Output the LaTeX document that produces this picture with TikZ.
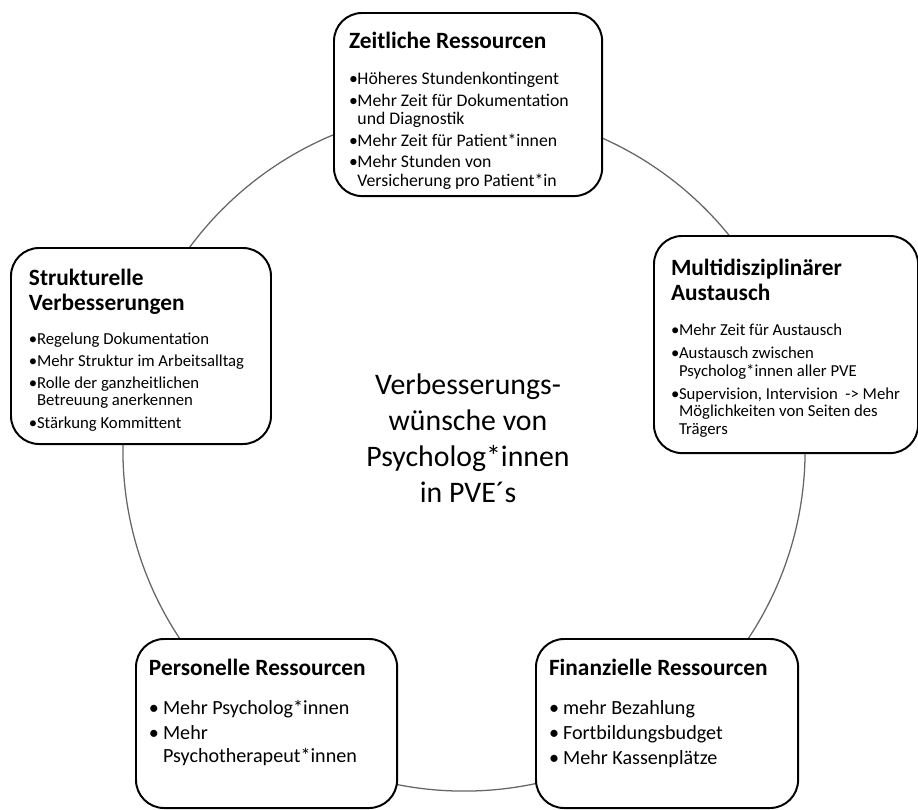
\documentclass[tikz,border=0pt]{standalone}
\usepackage{fontspec}
\setmainfont{Carlito}

\newcommand{\kopf}[2]{{\fontsize{16.6}{17.8}\selectfont\bfseries #1\par}\vspace{#2}}
\newcommand{\pkt}[2][6pt]{\par\noindent\hangindent=#1\hangafter=1\makebox[#1][l]{\textbullet}#2\par}

\tikzset{
    kasten/.style={draw, line width=1.4pt, rounded corners=20pt, fill=white,
        anchor=north west, inner xsep=#1, inner ysep=0pt},
    kasten/.default=11pt,
    ring/.style={draw=black!60, line width=0.9pt},
    mitte/.style={align=center, font=\fontsize{21.2}{25.6}\selectfont}
}

\begin{document}
\begin{tikzpicture}[x=0.025cm, y=-0.025cm]
    \useasboundingbox (0,0) rectangle (918,809);
    \coordinate (m) at (464,450);
    \draw[ring] (m) circle[radius=8.525cm];
    \path node[mitte] (titel) at (468,438) {Verbesserungs-\\wünsche von\\Psycholog*innen\\in PVE´s}
        node[kasten=10.7pt] (zeit) at (333,12) {\parbox[c][130.2pt][t]{169.3pt}{\raggedright
            \fontsize{12.6}{13}\selectfont\setlength{\parskip}{2.4pt}\vspace*{11pt}
            \kopf{Zeitliche Ressourcen}{10.5pt}
            \pkt{Höheres Stundenkontingent}
            \pkt{Mehr Zeit für Dokumentation\newline und Diagnostik}
            \pkt{Mehr Zeit für Patient*innen}
            \pkt{Mehr Stunden von\newline Versicherung pro Patient*in}}}
        node[kasten=12.8pt] (struktur) at (10,247) {\parbox[c][139.4pt][t]{159.3pt}{\raggedright
            \fontsize{11.9}{12.1}\selectfont\setlength{\parskip}{3.6pt}\vspace*{11.5pt}
            \kopf{Strukturelle\\Verbesserungen}{8.6pt}
            \pkt[5.7pt]{Regelung Dokumentation}
            \pkt[5.7pt]{Mehr Struktur im Arbeitsalltag}
            \pkt[5.7pt]{Rolle der ganzheitlichen\newline Betreuung anerkennen}
            \pkt[5.7pt]{Stärkung Kommittent}}}
        node[kasten=12.1pt] (austausch) at (653,235) {\parbox[c][154.4pt][t]{163.6pt}{\raggedright
            \fontsize{11.9}{12.5}\selectfont\setlength{\parskip}{3.7pt}\vspace*{13pt}
            \kopf{Multidisziplinärer\\Austausch}{8.7pt}
            \pkt[5.7pt]{Mehr Zeit für Austausch}
            \pkt[5.7pt]{Austausch zwischen\newline Psycholog*innen aller PVE}
            \pkt[5.7pt]{Supervision, Intervision \ -> Mehr\newline Möglichkeiten von Seiten des\newline Trägers}}}
        node[kasten=9.25pt] (personal) at (135,638) {\parbox[c][120.2pt][t]{167.2pt}{\raggedright
            \fontsize{14.3}{16.4}\selectfont\setlength{\parskip}{1.4pt}\vspace*{13pt}
            \kopf{Personelle Ressourcen}{9.9pt}
            \pkt[10pt]{Mehr Psycholog*innen}
            \pkt[10pt]{Mehr\newline Psychotherapeut*innen}}}
        node[kasten=9.25pt] (finanz) at (535,638) {\parbox[c][120.2pt][t]{167.9pt}{\raggedright
            \fontsize{14.3}{16.4}\selectfont\setlength{\parskip}{1.4pt}\vspace*{13pt}
            \kopf{Finanzielle Ressourcen}{9.9pt}
            \pkt[10pt]{mehr Bezahlung}
            \pkt[10pt]{Fortbildungsbudget}
            \pkt[10pt]{Mehr Kassenplätze}}};
\end{tikzpicture}
\end{document}
